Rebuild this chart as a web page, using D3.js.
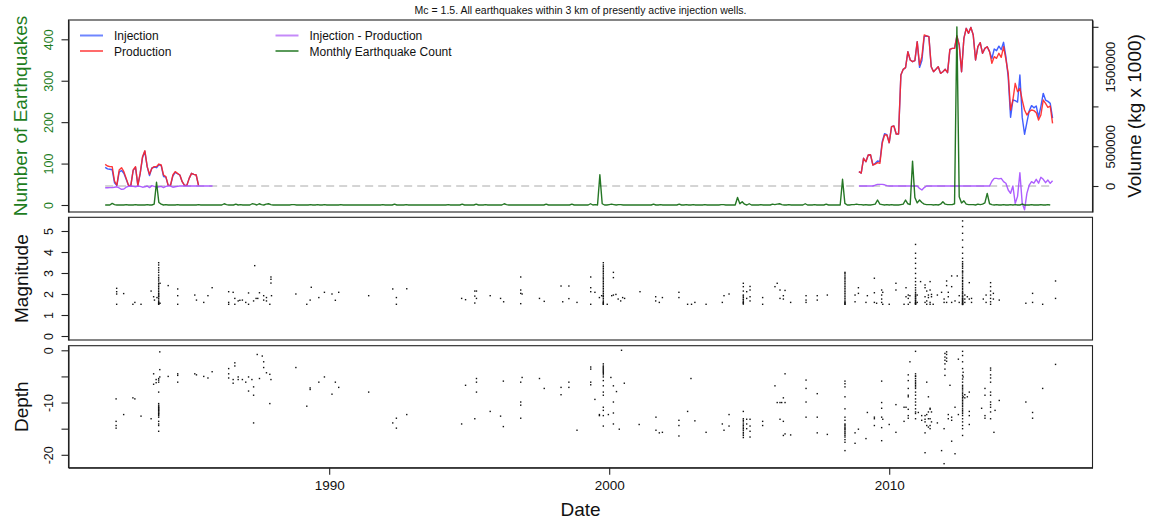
<!DOCTYPE html>
<html><head><meta charset="utf-8">
<script src="https://cdn.jsdelivr.net/npm/d3@7"></script>
<style>body{margin:0;background:#fff}svg{display:block}</style>
</head><body>
<svg id="c" width="1151" height="525"></svg>
<script>
// ---------------- DATA ----------------
const titleText = "Mc = 1.5. All earthquakes within 3 km of presently active injection wells.";
const xTicks = [1990, 2000, 2010];
const countTicks = [0, 100, 200, 300, 400];
const volTicks = [0, 500000, 1000000, 1500000, 2000000];
const volLabels = [0, 500000, 1500000];
const magTicks = [0, 1, 2, 3, 4, 5];
const depthTicks = [0, -5, -10, -15, -20];
const depthLabels = [0, -10, -20];

// injection / production volumes (kg x 1000), monthly
const earlyStart = 1982.0;
const injectionEarly = [235000,215000,210000,205000,40000,5000,175000,195000,160000,85000,5000,8000,196000,235000,8000,155000,355000,436000,243000,130000,226000,238000,230000,265000,258000,120000,112000,8000,8000,125000,172000,154000,138000,54000,8000,8000,96000,159000,147000,138000,8000];
const productionEarly = [272000,251000,243000,243000,63000,12000,201000,230000,180000,96000,8000,8000,201000,243000,8000,159000,368000,444000,243000,147000,222000,243000,243000,276000,264000,138000,117000,8000,8000,138000,180000,159000,138000,54000,8000,8000,96000,159000,147000,138000,8000];
const diffEarly = [-22000,-22000,-20000,-20000,-15000,-10000,-25000,-42000,-38000,-15000,-5000,0,-5000,-10000,0,-5000,-15000,-10000,0,-20000,5000,-5000,-15000,-10000,-5000,-20000,-5000,0,0,-15000,-10000,-5000,0,0,0,0,0,0,0,0,0,0,0,0,0,0,0];
const lateStart = 2008.917;
const injectionLate = [180000,163000,348000,306000,389000,392000,264000,286000,314000,306000,557000,656000,646000,544000,745000,754000,653000,653000,1394000,1466000,1487000,1688000,1583000,1562000,1575000,1813000,1490000,1575000,1877000,1885000,1876000,1499000,1436000,1466000,1499000,1415000,1436000,1466000,1424000,1717000,1729000,1729000,1885000,1771000,1436000,1855000,1981000,1918000,1993000,1897000,1583000,1750000,1800000,1667000,1729000,1750000,1688000,1601000,1721000,1700000,1757000,1713000,1805000,1626000,1365000,863000,1080000,1072000,1055000,1394000,862000,650000,800000,944000,1010000,982000,1006000,864000,1001000,1164000,1080000,1063000,1038000,854000];
const productionLate = [180000,163000,348000,306000,389000,392000,264000,276000,293000,285000,536000,641000,641000,544000,745000,754000,653000,653000,1394000,1466000,1487000,1688000,1583000,1562000,1575000,1813000,1520000,1625000,1897000,1885000,1876000,1499000,1436000,1466000,1499000,1415000,1436000,1466000,1424000,1717000,1729000,1729000,1885000,1771000,1436000,1855000,1981000,1918000,1993000,1897000,1583000,1750000,1800000,1667000,1729000,1750000,1688000,1541000,1625000,1604000,1667000,1617000,1750000,1591000,1415000,955000,1080000,1290000,1185000,1227000,1080000,955000,892000,934000,955000,947000,922000,829000,892000,1080000,1038000,988000,1005000,787000];
const diffLate = [0,0,0,0,0,0,0,10000,21000,21000,21000,15000,5000,0,0,0,0,0,0,0,0,0,0,0,0,0,-30000,-50000,-20000,0,0,0,0,0,0,0,0,0,0,0,0,0,0,0,0,0,0,0,0,0,0,0,0,0,0,0,0,60000,96000,96000,90000,96000,55000,35000,-50000,-92000,0,-218000,-130000,167000,-218000,-300000,-92000,10000,55000,35000,84000,35000,109000,84000,42000,75000,33000,67000];

// monthly earthquake counts, one row per year starting 1982
const countStartYear = 1982;
const monthlyCounts = [
 [0,0,0,4,1,0,0,0,0,1,0,0],[0,1,0,0,0,0,1,0,0,2,55,6],[2,0,1,0,0,0,0,1,0,0,0,0],[0,0,0,0,1,0,0,0,0,0,0,0],
 [0,0,0,3,1,0,0,0,2,0,1,0],[0,0,0,3,2,0,3,1,0,2,3,1],[0,0,0,0,0,0,0,0,1,1,0,0],[0,0,0,0,1,0,0,1,0,0,1,0],
 [0,0,0,0,0,1,0,0,0,0,0,0],[0,0,0,0,0,0,0,0,0,0,0,1],[0,0,0,0,2,0,0,0,0,1,0,0],[0,0,0,0,0,0,0,0,0,0,0,0],
 [0,0,0,1,0,0,0,0,0,2,0,0],[0,0,0,2,0,0,0,1,0,0,0,0],[0,0,0,3,1,0,0,0,0,0,0,0],[0,0,0,0,0,0,0,0,0,2,0,0],
 [0,0,0,0,0,0,0,0,2,0,0,0],[0,0,0,0,3,0,1,0,73,3,0,0],[1,2,1,0,1,1,0,0,0,0,0,0],[0,0,0,0,0,0,0,2,0,0,1,0],
 [0,0,0,0,0,0,2,0,0,1,0,0],[1,0,0,0,0,1,0,0,0,0,0,0],[1,1,0,0,0,0,0,18,3,8,2,0],[3,0,0,0,0,1,0,0,0,0,2,1],
 [2,3,1,0,0,1,0,0,0,0,0,0],[3,0,0,0,1,0,0,0,0,2,0,0],[0,0,0,0,62,4,0,0,1,1,2,1],[1,0,1,0,0,1,2,12,2,1,0,1],
 [0,1,0,0,0,1,2,12,3,1,106,18],[5,12,6,2,1,1,1,0,1,0,2,8],[2,1,1,1,3,430,20,5,10,2,1,1],[1,0,2,1,2,5,28,3,1,0,1,0],
 [0,1,0,0,1,0,1,0,0,2,0,0],[0,1,0,0,0,1,0,0,1,0]
];

// earthquakes: [decimal year, magnitude, magnitude, ...]
const magnitudeRows = [
 [1982.41,2.27,2.11,2.00,1.51],[1982.66,2.02],[1982.99,1.51],[1983.06,1.60],[1983.28,1.51],[1983.64,2.14],[1983.73,1.87],[1983.76,1.71],[1983.85,1.83],
 [1983.91,3.49,3.38,3.25,3.14,3.03,2.90,2.79,2.71,2.62,2.51,2.43,2.35,2.27,2.19,2.11,2.03,1.95,1.87,1.79,1.71,1.63,1.56,1.51,2.00,1.90,1.60,1.55,1.52],
 [1983.96,2.51,1.56],[1984.25,2.40],[1984.59,2.24,1.92,1.51],[1985.20,1.95],[1985.26,1.71],[1985.52,1.60],[1985.67,1.92],[1985.82,2.30],
 [1986.41,2.11,1.60,1.51],[1986.57,2.08],[1986.63,1.79,1.51],[1986.75,1.67],[1986.81,1.70],[1986.90,1.71],[1987.02,1.60],[1987.12,2.05,1.51],
 [1987.30,1.67],[1987.34,3.35],[1987.39,1.79],[1987.45,1.79],[1987.51,2.06],[1987.66,1.92,1.71],[1987.76,1.83,1.67],[1987.88,1.51],
 [1987.92,2.81,2.70,2.52],[1987.94,1.92],[1988.81,2.00],[1989.20,1.51],[1989.32,1.71],[1989.36,2.32],[1989.63,1.83],[1989.83,2.08],
 [1990.10,2.00],[1990.22,1.70],[1990.34,2.08],[1991.41,1.92],[1992.27,2.24],[1992.40,1.83,1.51],[1992.77,2.25],[1994.73,1.79],[1994.87,1.73],
 [1995.20,2.14,1.90,1.57],[1995.26,2.14,1.79],[1995.75,1.92],[1996.12,1.79],[1996.23,1.63],[1996.84,2.81,2.19,2.03,1.54],[1996.89,2.00],
 [1997.51,1.79],[1997.68,1.65],[1998.28,2.38],[1998.34,1.63],[1998.56,2.38,1.78],[1998.85,1.60],
 [1999.34,2.81,2.30,2.11,1.51],[1999.49,2.08],[1999.65,1.83],[1999.73,1.92],
 [1999.79,3.49,3.38,3.30,3.22,3.14,3.06,2.98,2.90,2.81,2.75,2.67,2.59,2.51,2.43,2.35,2.27,2.19,2.11,2.03,1.95,1.87,1.79,1.71,1.63,1.56,1.51,1.90,1.60,1.52],
 [1999.93,1.51],[2000.09,1.92],[2000.15,3.03,2.78,1.95],[2000.24,1.98],[2000.32,1.76],[2000.41,1.67],[2000.48,1.83],[2000.55,1.79],
 [2001.10,2.11],[2001.66,1.87,1.67],[2001.79,1.60],[2001.90,1.83],[2002.49,2.08,1.83],[2002.80,1.51],[2002.94,1.51],[2003.06,1.60],
 [2003.46,1.51],[2004.04,1.60],[2004.10,1.92],[2004.28,2.00],
 [2004.79,2.51,2.35,2.14,1.95,1.83,1.71,1.63,1.56,1.90,1.75,1.60,1.52],
 [2004.91,2.11,1.79],[2005.03,2.36,2.19,1.87,1.67],[2005.48,1.83,1.51],[2005.92,2.35],[2006.00,2.51],[2006.10,2.19,1.79],
 [2006.22,1.92,1.76],[2006.28,2.17],[2006.48,1.60],[2007.03,1.92,1.71,1.60],[2007.43,1.92,1.71],[2007.79,1.95],
 [2008.42,3.03,2.98,2.90,2.81,2.75,2.67,2.59,2.51,2.43,2.35,2.27,2.19,2.11,2.03,1.95,1.87,1.79,1.71,1.63,1.56,1.51,1.52,1.60],
 [2008.78,1.95,1.63],[2008.90,2.30,2.03],[2009.17,1.60],[2009.22,1.92],[2009.47,2.75,2.06,1.60],[2009.55,1.56],
 [2009.73,2.19,1.95,1.76,1.60],[2009.77,2.08,1.51],[2010.00,1.51],[2010.24,2.51,2.19],[2010.53,1.51],[2010.60,2.30,1.87],
 [2010.68,1.95,1.79,1.51],[2010.74,1.92,1.60],
 [2010.94,4.36,3.94,3.70,3.46,3.22,2.98,2.75,2.59,2.43,2.30,2.19,2.08,1.95,1.87,1.79,1.71,1.63,1.56,1.51,2.00,1.90,1.80,1.70,1.60,1.55,1.52],
 [2011.00,1.95,1.60],[2011.12,2.59],[2011.28,2.43,2.30,1.87,1.60],[2011.34,2.14,1.67,1.51],[2011.40,1.95,1.83],
 [2011.46,2.59,2.19,1.60,1.51],[2011.51,1.98,1.87],[2011.57,1.51],[2011.72,1.95],[2011.87,2.08],[2011.96,1.76,1.60],
 [2012.05,2.62,2.40,1.60],[2012.11,2.08,1.87],[2012.23,2.86,2.35,1.60],[2012.35,1.67],[2012.43,2.86],[2012.50,1.92,1.60],
 [2012.62,5.48,5.21,4.89,4.57,4.22,3.94,3.70,3.54,3.38,3.22,3.06,2.90,2.75,2.59,2.43,2.27,2.11,2.03,1.95,1.87,1.79,1.71,1.63,1.56,1.51,3.45,3.30,3.10,3.00,2.80,2.65,2.50,2.35,2.20,2.05,1.90,1.75,1.60,1.52,1.50,1.55,1.65,1.70,1.80],
 [2012.70,1.95,1.76,1.60],[2012.79,1.87],[2012.86,2.54,1.76],[2012.94,1.79,1.60],[2013.36,1.76],[2013.46,1.95,1.60],
 [2013.62,2.54,2.35,2.14,1.95,1.79,1.63,1.51],[2013.72,2.03,1.76],[2013.93,1.71],[2014.88,1.56],[2015.12,2.03,1.60],[2015.48,1.51],[2015.94,2.62,1.79]
];

// earthquakes: [decimal year, depth, depth, ...]
const depthRows = [
 [1982.39,-9.3,-13.6,-14.4,-14.9],[1982.66,-12.3],[1982.99,-9.1],[1983.06,-9.3],[1983.28,-12.6],[1983.64,-13.1],[1983.73,-4.5,-6.5],[1983.82,-5.6,-6.2],
 [1983.91,-5.4,-5.7,-6.1,-8.0,-10.2,-10.5,-10.9,-11.2,-11.5,-11.8,-12.1,-12.5,-12.8,-13.6,-14.1,-14.4,-15.5,-10.7,-11.0,-11.3,-11.6,-12.0,-12.3],
 [1983.95,-0.3,-3.7,-5.1],[1984.25,-5.0],[1984.59,-4.5,-4.8,-6.1],[1985.20,-4.5],[1985.26,-4.7],[1985.52,-5.0],[1985.67,-5.3],[1985.82,-4.1],
 [1986.41,-3.5,-4.5,-5.3],[1986.57,-5.6,-6.3],[1986.63,-2.4,-3.0],[1986.75,-5.1,-5.6],[1986.90,-5.6],[1987.02,-6.1],[1987.12,-5.1,-7.8],
 [1987.24,-5.6],[1987.30,-7.0,-8.6,-13.9],[1987.43,-0.8],[1987.51,-5.4],[1987.61,-1.1],[1987.66,-2.2,-3.3],[1987.76,-4.3],[1987.88,-4.6,-10.2],
 [1987.92,-5.6],[1988.81,-3.3],[1989.20,-10.7],[1989.32,-7.2,-7.5],[1989.63,-6.1],[1989.83,-5.1],[1990.10,-8.4],[1990.22,-6.1],[1990.34,-7.1],
 [1991.41,-8.0],[1992.27,-13.9],[1992.40,-13.0,-14.9],[1992.77,-12.3],[1994.73,-14.1],[1994.87,-6.7],[1995.20,-13.1],[1995.26,-5.4,-6.1,-8.0],
 [1995.75,-11.7],[1996.12,-12.6],[1996.22,-5.9,-14.6],[1996.84,-6.1,-9.9,-10.5,-13.0],[1996.89,-5.2],[1997.51,-5.4],[1997.68,-7.3],
 [1998.28,-7.1,-8.5],[1998.56,-6.1,-7.1],[1998.85,-15.3],
 [1999.34,-3.2,-3.6,-6.1,-6.6],[1999.49,-9.4],[1999.65,-12.3,-12.5],
 [1999.79,-2.6,-3.0,-3.4,-3.8,-4.2,-4.7,-5.1,-5.8,-6.8,-8.0,-8.6,-10.9,-11.5,-12.5,-14.5,-3.2,-3.6,-4.0,-4.4],
 [1999.97,-12.3],[2000.06,-5.2],[2000.15,-6.8,-9.9,-12.0,-14.1],[2000.26,-7.9],[2000.36,-15.1],[2000.44,0],[2000.54,-6.3],[2001.07,-14.2],
 [2001.67,-12.8,-15.3],[2001.79,-15.8],[2001.90,-15.7],[2002.49,-13.4,-14.4,-16.4],[2002.80,-11.7],[2002.92,-5.4],[2003.06,-13.5],[2003.46,-15.7],
 [2004.04,-14.1],[2004.10,-15.3],[2004.28,-12.3,-14.5],
 [2004.79,-11.7,-13.1,-13.4,-13.7,-14.1,-14.4,-14.7,-15.0,-15.3,-15.7,-16.0,-16.3,-16.7],
 [2004.91,-13.2,-14.1,-15.0],[2005.03,-13.2,-14.5,-15.5,-16.6],[2005.48,-13.6,-14.4],[2005.92,-6.8],[2006.00,-10.0],[2006.10,-10.0,-13.2],
 [2006.16,-10.0],[2006.22,-9.1,-13.6,-16.3],[2006.28,-4.5,-10.0,-16.0],[2006.48,-16.2],[2007.03,-5.7,-7.3,-9.9,-12.8],[2007.43,-8.3,-12.8,-15.8],
 [2007.79,-16.1],
 [2008.42,-5.9,-6.4,-7.0,-8.9,-11.2,-12.8,-13.4,-14.1,-14.5,-15.0,-15.5,-16.0,-16.3,-16.6,-17.1,-17.6,-19.2,-14.3,-14.8,-15.2,-15.8],
 [2008.78,-15.8,-17.8],[2008.90,-15.1],[2009.17,-16.9],[2009.22,-11.9],[2009.47,-12.8,-13.1,-14.4],
 [2009.73,-5.9,-10.0,-11.1,-12.8,-14.8,-17.3],[2009.77,-13.2],[2010.00,-14.2],[2010.24,-10.4,-15.7],[2010.53,-10.9,-13.6],[2010.60,-10.9],
 [2010.68,-4.7,-5.8,-7.3,-8.6,-8.9,-11.3,-12.5,-13.0],[2010.74,-2.2],
 [2010.94,-0.2,-4.5,-4.9,-5.4,-6.1,-6.7,-7.3,-8.0,-8.6,-9.3,-9.9,-10.5,-11.2,-11.8,-12.1,-13.1,-5.0,-5.8,-6.4,-7.0],
 [2011.04,-11.9],[2011.16,-12.5,-13.4],[2011.28,-12.5,-13.2,-13.7,-15.8,-19.6],[2011.34,-6.1,-12.3,-14.4],[2011.40,-8.9,-11.8,-13.1,-14.7],
 [2011.46,-11.1,-11.3,-13.1,-14.4,-15.0],[2011.51,-11.8,-13.7],[2011.72,-13.9],[2011.87,-19.2],[2011.96,-15.0,-21.7],
 [2011.99,-0.6,-1.3,-1.9,-2.6,-3.6,-4.8],[2012.05,-0.3,-0.8,-1.5,-2.1],[2012.11,-12.3,-13.1],[2012.17,-6.7],[2012.23,-12.8,-13.4,-17.4],
 [2012.35,-10.9,-19.8],[2012.47,-1.7,-12.3],
 [2012.62,-0.2,-1.0,-2.2,-3.5,-4.8,-6.1,-6.7,-7.3,-8.0,-8.6,-9.3,-9.9,-10.5,-11.2,-11.8,-12.5,-13.1,-13.7,-14.4,-15.0,-16.3,-5.5,-7.0,-7.6,-8.3,-9.0,-9.6,-10.2,-10.8,-11.5,-12.1],
 [2012.64,-4.2,-5.1,-8.9],[2012.70,-8.5,-9.1],[2012.79,-8.9],[2012.86,-8.0,-11.7,-12.5,-14.2],[2013.30,-11.1],[2013.42,-7.3,-8.6,-12.5,-13.0],
 [2013.62,-3.4,-3.8,-4.7,-5.3,-6.1,-8.0,-8.6,-9.9,-10.4,-10.9,-11.8,-13.1],
 [2013.74,-15.7],[2013.78,-11.5],[2013.93,-9.6],[2014.88,-9.9],[2015.12,-11.9,-13.0],[2015.48,-7.3],[2015.94,-2.7]
];

// ---------------- DRAWING ----------------
const FONT = '"Liberation Sans", Arial, Helvetica, sans-serif';
const GREEN_TXT = '#1e7d1e';
const svg = d3.select('#c').attr('font-family', FONT);

const X0 = 68.5, X1 = 1092.5;
const P1 = [20, 212], P2 = [217.3, 340], P3 = [345.7, 467.7];
const x = d3.scaleLinear().domain([1980.69, 2017.26]).range([X0, X1]);
const yCount = d3.scaleLinear().domain([-16.9, 446.6]).range([P1[1], P1[0]]);
const yVol = d3.scaleLinear().domain([-326600, 2085500]).range([P1[1], P1[0]]);
const yMag = d3.scaleLinear().domain([-0.19, 5.652]).range([P2[1], P2[0]]);
const yDep = d3.scaleLinear().domain([-22.47, 0.88]).range([P3[1], P3[0]]);

// title
svg.append('text').attr('x', (X0 + X1) / 2).attr('y', 9.5).attr('text-anchor', 'middle')
  .attr('dominant-baseline', 'central').attr('font-size', 10.5).attr('fill', '#111').text(titleText);

// series helpers
const monthly = (start, arr) => arr.map((v, i) => [start + i / 12, v]);
const lineVol = d3.line().x(d => x(d[0])).y(d => yVol(d[1]));
const lineCnt = d3.line().x(d => x(d[0])).y(d => yCount(d[1]));

const gTop = svg.append('g');
const counts = monthlyCounts.flat().map((v, i) => [countStartYear + i / 12, v]);
const tFirst = counts[0][0], tLast = counts[counts.length - 1][0];
gTop.append('path').attr('d', lineVol([[tFirst, 0], [tLast, 0]]))
  .attr('stroke', '#aaaaaa').attr('stroke-width', 1).attr('stroke-dasharray', '8,5').attr('fill', 'none');

const seriesStyles = [
  {data: [monthly(earlyStart, injectionEarly), monthly(lateStart, injectionLate)], color: '#2b4cff'},
  {data: [monthly(earlyStart, productionEarly), monthly(lateStart, productionLate)], color: '#ff2424'},
  {data: [monthly(earlyStart, diffEarly), monthly(lateStart, diffLate)], color: '#a54dff'}
];
seriesStyles.forEach(s => s.data.forEach(seg => {
  gTop.append('path').attr('d', lineVol(seg)).attr('fill', 'none')
    .attr('stroke', s.color).attr('stroke-width', 1.4).attr('stroke-opacity', 0.9).attr('stroke-linejoin', 'round');
}));
gTop.append('path').attr('d', lineCnt(counts)).attr('fill', 'none')
  .attr('stroke', '#0d680d').attr('stroke-width', 1.4).attr('stroke-opacity', 0.9).attr('stroke-linejoin', 'round');

// scatter points
const pts = (rows) => rows.flatMap(r => r.slice(1).map(v => [r[0], v]));
svg.append('g').selectAll('rect').data(pts(magnitudeRows)).join('rect')
  .attr('x', d => x(d[0]) - 0.7).attr('y', d => yMag(d[1]) - 0.7).attr('width', 1.4).attr('height', 1.4).attr('fill', '#111');
svg.append('g').selectAll('rect').data(pts(depthRows)).join('rect')
  .attr('x', d => x(d[0]) - 0.7).attr('y', d => yDep(d[1]) - 0.7).attr('width', 1.4).attr('height', 1.4).attr('fill', '#111');

// panel boxes
[P1, P2, P3].forEach(p => svg.append('rect').attr('x', X0).attr('y', p[0]).attr('width', X1 - X0)
  .attr('height', p[1] - p[0]).attr('fill', 'none').attr('stroke', '#222').attr('stroke-width', 1.1));

// axes
function styleAxis(g, color, size) {
  g.attr('font-size', size).attr('font-family', FONT).attr('color', '#222');
  g.select('.domain').attr('stroke-width', 1.1);
  g.selectAll('.tick line').attr('stroke-width', 1.1);
  g.selectAll('.tick text').attr('fill', color);
}
function rotLabels(g, dx) {
  g.selectAll('.tick text').attr('x', null).attr('dy', null).attr('y', null)
    .attr('text-anchor', 'middle').attr('dominant-baseline', 'central')
    .attr('transform', `translate(${dx},0) rotate(-90)`);
}
const fmtInt = d3.format('d');
const axL1 = svg.append('g').attr('transform', `translate(${X0},0)`)
  .call(d3.axisLeft(yCount).tickValues(countTicks).tickSize(7).tickSizeOuter(0).tickFormat(fmtInt));
styleAxis(axL1, GREEN_TXT, 12.5); rotLabels(axL1, -20);
const axR1 = svg.append('g').attr('transform', `translate(${X1},0)`)
  .call(d3.axisRight(yVol).tickValues(volTicks).tickSize(6).tickSizeOuter(0)
    .tickFormat(d => volLabels.includes(d) ? String(d) : ''));
styleAxis(axR1, '#111', 13); rotLabels(axR1, 18);
const axL2 = svg.append('g').attr('transform', `translate(${X0},0)`)
  .call(d3.axisLeft(yMag).tickValues(magTicks).tickSize(7).tickSizeOuter(0).tickFormat(fmtInt));
styleAxis(axL2, '#111', 12.5); rotLabels(axL2, -20);
const axL3 = svg.append('g').attr('transform', `translate(${X0},0)`)
  .call(d3.axisLeft(yDep).tickValues(depthTicks).tickSize(7).tickSizeOuter(0)
    .tickFormat(d => depthLabels.includes(d) ? String(d) : ''));
styleAxis(axL3, '#111', 12.5); rotLabels(axL3, -20);
const axB = svg.append('g').attr('transform', `translate(0,${P3[1]})`)
  .call(d3.axisBottom(x).tickValues(xTicks).tickSize(7).tickSizeOuter(0).tickFormat(fmtInt));
styleAxis(axB, '#111', 13.5);
axB.selectAll('.tick text').attr('y', 18).attr('dy', null).attr('dominant-baseline', 'central');

// axis titles
function vTitle(text, cx, cy, color) {
  svg.append('text').attr('transform', `translate(${cx},${cy}) rotate(-90)`).attr('text-anchor', 'middle')
    .attr('dominant-baseline', 'central').attr('font-size', 19).attr('fill', color).text(text);
}
vTitle('Number of Earthquakes', 20.5, 116, GREEN_TXT);
vTitle('Volume (kg x 1000)', 1134, 116, '#111');
vTitle('Magnitude', 21.5, (P2[0] + P2[1]) / 2, '#111');
vTitle('Depth', 21.5, (P3[0] + P3[1]) / 2, '#111');
svg.append('text').attr('x', (X0 + X1) / 2).attr('y', 509).attr('text-anchor', 'middle')
  .attr('dominant-baseline', 'central').attr('font-size', 19).attr('fill', '#111').text('Date');

// legend
const legendItems = [
  {label: 'Injection', color: '#6f86ff', x: 80, y: 35.5},
  {label: 'Production', color: '#ff6b6b', x: 80, y: 51},
  {label: 'Injection - Production', color: '#c58af9', x: 275.5, y: 35.5},
  {label: 'Monthly Earthquake Count', color: '#5a9a5a', x: 275.5, y: 51}
];
const lg = svg.append('g').selectAll('g').data(legendItems).join('g');
lg.append('line').attr('x1', d => d.x).attr('x2', d => d.x + 23).attr('y1', d => d.y).attr('y2', d => d.y)
  .attr('stroke', d => d.color).attr('stroke-width', 2);
lg.append('text').attr('x', d => d.x + 34).attr('y', d => d.y + 0.7).attr('dominant-baseline', 'central')
  .attr('font-size', 12).attr('fill', '#111').text(d => d.label);
</script>
</body></html>
